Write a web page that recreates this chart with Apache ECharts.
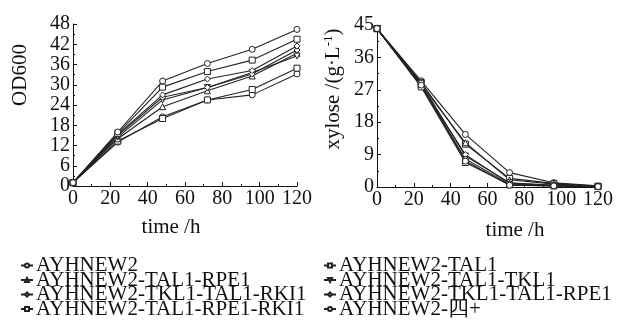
<!DOCTYPE html>
<html><head><meta charset="utf-8">
<script src="https://cdn.jsdelivr.net/npm/echarts@6/dist/echarts.min.js"></script>
<style>html,body{margin:0;padding:0;background:#fff}#c{width:622px;height:324px}</style>
</head><body><div id="c"></div>
<script>
const times = [0, 24, 48, 72, 96, 120];
const seriesNames = [
  'AYHNEW2', 'AYHNEW2-TAL1',
  'AYHNEW2-TAL1-RPE1', 'AYHNEW2-TAL1-TKL1',
  'AYHNEW2-TKL1-TAL1-RKI1', 'AYHNEW2-TKL1-TAL1-RPE1',
  'AYHNEW2-TAL1-RPE1-RKI1', 'AYHNEW2-四+'
];
const od1 = [1, 13.0, 20.5, 25.5, 27.0, 33.2];
const od2 = [1, 13.3, 20.0, 25.5, 28.6, 34.9];
const od3 = [1, 14.0, 23.5, 28.2, 32.6, 39.3];
const od4 = [1, 14.5, 25.5, 29.2, 33.6, 38.5];
const od5 = [1, 15.0, 26.3, 29.2, 33.2, 40.3];
const od6 = [1, 15.3, 27.0, 31.7, 34.2, 41.5];
const od7 = [1, 15.6, 29.3, 33.9, 37.3, 43.5];
const od8 = [1, 16.0, 31.1, 36.3, 40.5, 46.4];
const xy1 = [44, 29.5, 14.6, 4.0, 1.2, 0.3];
const xy2 = [44, 29.0, 11.9, 2.4, 1.0, 0.2];
const xy3 = [44, 28.5, 12.3, 2.0, 0.8, 0.2];
const xy4 = [44, 28.8, 8.6, 1.2, 0.5, 0.1];
const xy5 = [44, 28.0, 9.0, 1.0, 0.5, 0.1];
const xy6 = [44, 28.2, 7.8, 0.8, 0.4, 0.1];
const xy7 = [44, 27.8, 6.8, 0.6, 0.3, 0.1];
const xy8 = [44, 28.3, 7.2, 0.5, 0.3, 0.1];
const xTicks = [0, 120, 20];
const odTicks = [0, 48, 6];
const xyTicks = [0, 45, 9];

const odData = [od1, od2, od3, od4, od5, od6, od7, od8];
const xyData = [xy1, xy2, xy3, xy4, xy5, xy6, xy7, xy8];
const symbols = ['circle', 'rect', 'triangle', 'path://M0,0L10,0L5,9Z', 'diamond',
  'path://M5,0L10,5L5,10L0,5Z', 'path://M0,0L10,0L10,10L0,10Z', 'circle'];
const FONT = 'Liberation Serif';
const INK = '#111';

function xAxis(gi) {
  return {
    type: 'value', gridIndex: gi, min: xTicks[0], max: xTicks[1], interval: xTicks[2],
    axisLine: {lineStyle: {color: INK, width: 1}},
    axisTick: {inside: true, length: 4, lineStyle: {color: INK}},
    minorTick: {show: true, splitNumber: 2, length: 2, lineStyle: {color: INK}},
    splitLine: {show: false},
    axisLabel: {fontFamily: FONT, fontSize: 20, color: INK, margin: 3}
  };
}
function yAxis(gi, t) {
  return {
    type: 'value', gridIndex: gi, min: t[0], max: t[1], interval: t[2],
    axisLine: {show: true, lineStyle: {color: INK, width: 1}},
    axisTick: {show: true, inside: true, length: 4, lineStyle: {color: INK}},
    minorTick: {show: true, splitNumber: 2, length: 2, lineStyle: {color: INK}},
    splitLine: {show: false},
    axisLabel: {fontFamily: FONT, fontSize: 20, color: INK, margin: 3}
  };
}
const series = [];
seriesNames.forEach((n, i) => {
  const base = {
    name: n, type: 'line', symbol: symbols[i], symbolSize: 6,
    lineStyle: {color: '#222', width: 1.1},
    itemStyle: {color: '#fff', borderColor: '#222', borderWidth: 1},
    animation: false
  };
  series.push(Object.assign({}, base, {xAxisIndex: 0, yAxisIndex: 0,
    data: times.map((t, k) => [t, odData[i][k]])}));
  series.push(Object.assign({}, base, {xAxisIndex: 1, yAxisIndex: 1,
    data: times.map((t, k) => [t, xyData[i][k]])}));
});
const rowCenters = [265, 279.5, 294, 308.5];
const colLefts = [20, 323];
const legends = seriesNames.map((n, i) => ({
  orient: 'vertical', left: colLefts[i % 2], top: rowCenters[Math.floor(i / 2)] - 10,
  itemWidth: 12, itemHeight: 5, itemGap: 0, padding: 0, data: [n],
  textStyle: {fontFamily: FONT, fontSize: 21, color: INK, lineHeight: 14, padding: [0, 0, 0, -2]}
}));
const chart = echarts.init(document.getElementById('c'), null, {renderer: 'canvas'});
chart.setOption({
  backgroundColor: '#fff',
  animation: false,
  grid: [
    {left: 73, top: 24, width: 224, height: 162},
    {left: 377, top: 25, width: 221, height: 162}
  ],
  xAxis: [xAxis(0), xAxis(1)],
  yAxis: [yAxis(0, odTicks), yAxis(1, xyTicks)],
  legend: legends,
  graphic: [
    {type: 'text', x: 171, y: 227, style: {text: 'time /h', font: '21px "Liberation Serif"', fill: INK, align: 'center', verticalAlign: 'middle'}},
    {type: 'text', x: 515, y: 230, style: {text: 'time /h', font: '21px "Liberation Serif"', fill: INK, align: 'center', verticalAlign: 'middle'}},
    {type: 'text', x: 20, y: 75, rotation: Math.PI / 2, style: {text: 'OD600', font: '21px "Liberation Serif"', fill: INK, align: 'center', verticalAlign: 'middle'}},
    {type: 'text', x: 333, y: 89, rotation: Math.PI / 2, style: {
      text: '{a|xylose /(g·L}{s|-1}{a|)}', align: 'center', verticalAlign: 'middle',
      rich: {a: {fontFamily: FONT, fontSize: 21, fill: INK, color: INK}, s: {fontFamily: FONT, fontSize: 13, color: INK, verticalAlign: 'top', padding: [0, 0, 8, 0]}}
    }}
  ],
  series: series
});
</script></body></html>
